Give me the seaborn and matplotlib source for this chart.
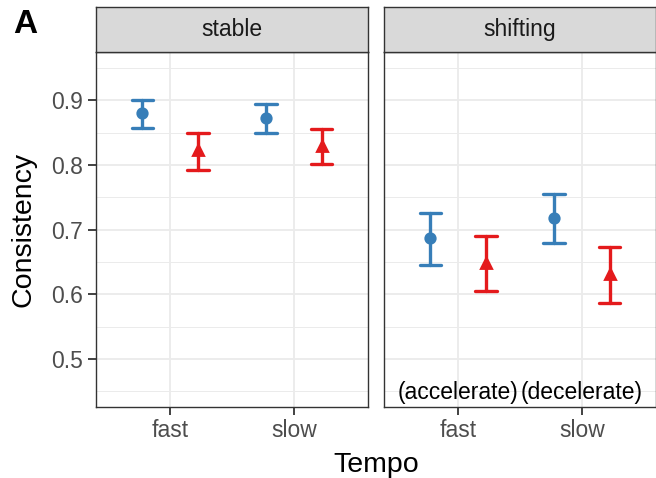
import numpy as np
import pandas as pd
import matplotlib
matplotlib.use("Agg")
import matplotlib.pyplot as plt
import seaborn as sns

# Mean consistency with lower / upper interval bounds per panel, tempo and group
panels = ["stable", "shifting"]
tempo = ["fast", "slow"]
groups = ["Group 1", "Group 2"]

stable_g1_lo = [0.858, 0.850]
stable_g1_mid = [0.880, 0.873]
stable_g1_hi = [0.901, 0.894]
stable_g2_lo = [0.793, 0.802]
stable_g2_mid = [0.823, 0.829]
stable_g2_hi = [0.849, 0.856]

shifting_g1_lo = [0.646, 0.679]
shifting_g1_mid = [0.687, 0.718]
shifting_g1_hi = [0.726, 0.755]
shifting_g2_lo = [0.605, 0.587]
shifting_g2_mid = [0.648, 0.632]
shifting_g2_hi = [0.691, 0.674]

tempo_notes = ["(accelerate)", "(decelerate)"]

y_ticks = [0.5, 0.6, 0.7, 0.8, 0.9]

series = {
    ("stable", "Group 1"): (stable_g1_lo, stable_g1_mid, stable_g1_hi),
    ("stable", "Group 2"): (stable_g2_lo, stable_g2_mid, stable_g2_hi),
    ("shifting", "Group 1"): (shifting_g1_lo, shifting_g1_mid, shifting_g1_hi),
    ("shifting", "Group 2"): (shifting_g2_lo, shifting_g2_mid, shifting_g2_hi),
}

# Long table: each cell carries its low, centre and high value so that the
# median gives the centre and the full percentile interval gives the bounds.
rows = []
for (panel, grp), (lo, mid, hi) in series.items():
    for i, t in enumerate(tempo):
        for v in (lo[i], mid[i], hi[i]):
            rows.append({"panel": panel, "Tempo": t, "group": grp, "Consistency": v})
df = pd.DataFrame(rows)

sns.set_theme(style="white")
plt.rcParams["font.family"] = ["Liberation Sans", "DejaVu Sans"]

palette = {"Group 1": "#377EB8", "Group 2": "#E41A1C"}
grey20 = "#333333"
grey30 = "#4D4D4D"
grid_col = "#EBEBEB"
small = 16.5
big = 20.5

W, H = 656, 478
fig = plt.figure(figsize=(W / 100, H / 100), dpi=100)

px_left = [96, 384]
px_w = 272
px_top, px_bot = 52, 407
strip_top = 7

for k, panel in enumerate(panels):
    ax = fig.add_axes([px_left[k] / W, 1 - px_bot / H, px_w / W, (px_bot - px_top) / H])
    sub = df[df["panel"] == panel]
    sns.pointplot(
        data=sub, x="Tempo", y="Consistency", hue="group",
        order=tempo, hue_order=groups, palette=palette,
        estimator="median", errorbar=("pi", 100),
        dodge=0.45, markers=["o", "^"], linestyles="none",
        capsize=0.17, err_kws={"linewidth": 2.4},
        markersize=6.8, ax=ax, legend=False,
    )
    ax.set_xlim(-0.6, 1.6)
    ax.set_ylim(0.426, 0.975)
    ax.set_yticks(y_ticks)
    ax.set_yticks(np.arange(0.45, 0.98, 0.1), minor=True)
    ax.grid(True, which="major", color=grid_col, linewidth=1.3)
    ax.grid(True, which="minor", axis="y", color=grid_col, linewidth=0.7)
    ax.set_axisbelow(True)
    for s in ax.spines.values():
        s.set_color(grey20)
        s.set_linewidth(1.0)
    ax.tick_params(axis="x", length=5.5, width=1.3, color=grey20,
                   labelsize=small, labelcolor=grey30, pad=3, bottom=True)
    ax.tick_params(axis="y", which="minor", left=False)
    ax.set_xlabel("")
    ax.set_ylabel("")
    if k == 0:
        ax.tick_params(axis="y", which="major", length=5.5, width=1.3, color=grey20,
                       labelsize=small, labelcolor=grey30, pad=4, left=True)
        ax.set_yticklabels([f"{v:.1f}" for v in y_ticks])
    else:
        ax.tick_params(axis="y", left=False, labelleft=False)
        for i, note in enumerate(tempo_notes):
            ax.text(i, 0.448, note, ha="center", va="center",
                    fontsize=small, color="black")

    # facet strip
    sax = fig.add_axes([px_left[k] / W, 1 - px_top / H, px_w / W, (px_top - strip_top) / H])
    sax.set_facecolor("#D9D9D9")
    sax.set_xticks([])
    sax.set_yticks([])
    for s in sax.spines.values():
        s.set_color(grey20)
        s.set_linewidth(1.0)
    sax.text(0.5, 0.5, panel, ha="center", va="center", fontsize=small,
             color="#1A1A1A", transform=sax.transAxes)

fig.text(24 / W, 1 - 229.5 / H, "Consistency", rotation=90, ha="center",
         va="center", fontsize=big, color="black")
fig.text(376 / W, 1 - 472 / H, "Tempo", ha="center", va="baseline",
         fontsize=big, color="black")
fig.text(13 / W, 1 - 33 / H, "A", ha="left", va="baseline",
         fontsize=24, fontweight="bold", color="black")

fig.savefig("out.png", dpi=100)
